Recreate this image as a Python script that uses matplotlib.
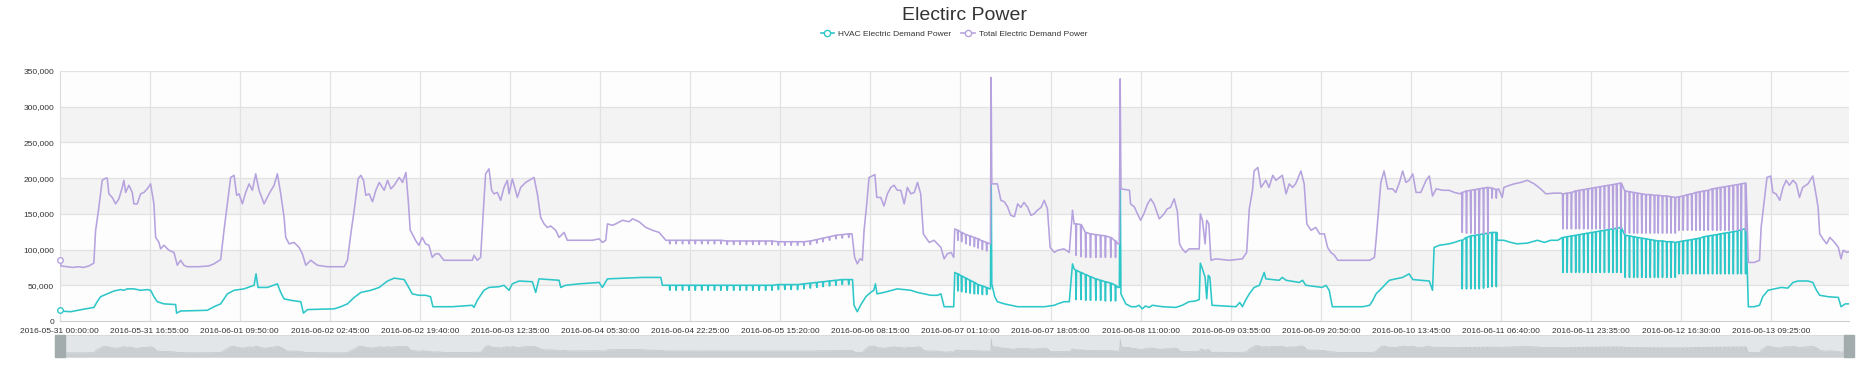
"""Electric power chart: HVAC vs total demand, 2016-05-31 .. 2016-06-13 (ECharts-style look)."""

import matplotlib

matplotlib.use("Agg")
import matplotlib.pyplot as plt
import pandas as pd
from matplotlib.lines import Line2D
from matplotlib.patches import Rectangle
from matplotlib.ticker import FuncFormatter

plt.rcParams["font.family"] = ["Liberation Sans", "DejaVu Sans"]

START = pd.Timestamp("2016-05-31 00:00:00")
END_HOURS = 336.0

x_tick_labels = [
    "2016-05-31 00:00:00", "2016-05-31 16:55:00", "2016-06-01 09:50:00", "2016-06-02 02:45:00",
    "2016-06-02 19:40:00", "2016-06-03 12:35:00", "2016-06-04 05:30:00", "2016-06-04 22:25:00",
    "2016-06-05 15:20:00", "2016-06-06 08:15:00", "2016-06-07 01:10:00", "2016-06-07 18:05:00",
    "2016-06-08 11:00:00", "2016-06-09 03:55:00", "2016-06-09 20:50:00", "2016-06-10 13:45:00",
    "2016-06-11 06:40:00", "2016-06-11 23:35:00", "2016-06-12 16:30:00", "2016-06-13 09:25:00",
]
y_ticks = [0, 50000, 100000, 150000, 200000, 250000, 300000, 350000]

# ---- base curves: hours since start, power in thousands ----
total_h = [
    0, 0.3, 1.5, 2.5, 3.5, 4.5, 5.5, 6.45, 6.77, 7.39, 8.02, 8.65, 8.96, 9.27, 9.9, 10.53,
    11.15, 11.78, 12.09, 12.41, 13.03, 13.66, 13.97, 14.6, 15.23, 15.85, 16.48, 17.1, 17.73,
    18.05, 18.67, 18.98, 19.61, 20.55, 21.49, 22.12, 22.74, 23.37, 24.0, 26.0, 28.0, 29.0,
    30.26, 30.89, 31.52, 32.14, 32.77, 33.27, 33.71, 34.34, 34.96, 35.59, 36.22, 36.84, 37.47,
    38.41, 39.35, 40.29, 40.91, 41.54, 42.17, 42.48, 43.11, 44.05, 44.99, 45.61, 46.24, 47.18,
    48.43, 50.31, 53.45, 54.07, 54.7, 55.33, 56.08, 56.58, 57.08, 57.52, 58.15, 58.77, 59.4,
    60.03, 60.96, 61.59, 62.22, 62.84, 63.78, 64.41, 65.04, 65.48, 65.85, 66.23, 66.85, 67.48,
    68.11, 68.73, 69.36, 69.99, 70.61, 71.24, 72.18, 75.63, 77.51, 77.82, 78.45, 79.07, 79.39,
    79.7, 80.01, 80.64, 81.14, 81.58, 82.21, 82.83, 83.46, 84.09, 84.4, 85.03, 85.97, 86.59,
    87.53, 89.1, 89.72, 90.35, 90.98, 91.6, 92.23, 93.17, 93.8, 94.74, 95.36, 97.55, 100.06,
    101.32, 101.94, 102.57, 102.88, 103.82, 104.45, 105.7, 106.95, 107.58, 108.83, 110.09,
    111.34, 112.59, 113.85,
    148.8, 149.3, 149.8, 150.3, 150.75, 151.07, 151.57, 152.0, 152.6, 153.1, 153.45, 154.2,
    154.8, 155.45, 156.1, 156.7, 157.3, 157.96, 158.6, 159.2, 159.85, 160.5, 161.1, 161.7,
    162.2, 162.65, 163.3, 164.2, 164.85, 165.5, 166.1, 166.7, 167.4, 167.9, 168.1,
    174.6, 174.8, 174.92, 175.05, 176.1, 176.75, 177.4, 178.0, 178.6, 179.3, 179.9, 180.5,
    181.1, 181.8, 182.4, 183.0, 183.6, 184.3, 184.9, 185.5, 186.0, 186.8, 187.4, 188.6, 189.6,
    190.2, 190.5,
    198.7, 199.0, 199.15, 199.3, 200.9, 201.1, 201.8, 202.4, 203.0, 203.6, 204.3, 204.9, 205.5,
    206.5, 207.4, 208.0, 208.6, 209.3, 209.9, 210.3, 210.8, 211.4, 212.1, 213.0, 214.0, 214.2,
    214.6, 215.1, 215.4, 215.8, 216.2, 217.1, 219.6, 222.1, 222.9, 223.4, 224.0, 224.3, 225.0,
    225.6, 226.5, 227.1, 227.8, 228.4, 229.6, 230.3, 230.9, 231.5, 232.1, 233.1, 233.7, 234.2,
    235.0, 235.9, 236.6, 237.5, 238.1, 238.7, 239.4, 240.0, 241.6, 244.1, 246.0, 246.9, 247.2,
    247.7, 248.1, 248.7, 249.4, 250.3, 250.9, 251.6, 252.2, 252.8, 253.4, 254.1, 254.7, 255.6,
    256.6, 257.2, 257.8, 258.5, 259.7, 260.9, 261.9, 263.0,
    270.2, 270.9, 271.2, 271.9, 273.1, 274.4, 275.6, 276.9, 278.1, 279.1, 280.6, 281.9,
    317.1, 318.2, 319.2, 319.5, 320.1, 320.6, 321.3, 321.7, 322.3, 323.0, 323.6, 324.2, 324.8,
    325.5, 326.1, 326.7, 327.3, 328.3, 329.2, 329.9, 330.2, 330.5, 331.1, 331.8, 332.4, 333.3,
    334.0, 334.5, 334.9, 335.6, 336.0,
]
total_kw = [
    85, 77, 76, 75, 76, 75, 77, 81, 126, 159, 197, 200, 200, 178, 173, 164,
    171, 187, 197, 180, 190, 180, 164, 164, 178, 180, 185, 192, 164,
    117, 110, 101, 106, 99, 96, 78, 85, 78, 76, 76, 77, 80,
    86, 127, 164, 201, 204, 176, 178, 164, 180, 192, 183, 206, 183,
    164, 178, 190, 206, 178, 145, 117, 108, 110, 103, 94, 78, 85,
    78, 76, 76, 85, 122, 155, 199, 204, 197, 176, 178, 167, 183,
    194, 183, 197, 185, 190, 201, 194, 208, 169, 127, 122, 113, 106,
    117, 108, 106, 89, 94, 94, 85, 85, 85, 92, 85, 89, 131,
    169, 206, 213, 183, 178, 180, 169, 187, 197, 178, 199, 173, 187,
    194, 201, 178, 145, 136, 131, 133, 127, 117, 124, 113, 113, 113,
    115, 110, 113, 136, 134, 136, 141, 139, 143, 139, 131,
    127, 124, 113,
    122, 89, 80, 87, 85, 127, 164, 201, 203, 205, 173, 173,
    161, 178, 187, 190, 183, 183, 164, 187, 178, 180, 194, 178,
    122, 117, 110, 113, 108, 103, 87, 94, 96, 89, 129,
    108, 108, 341, 192, 192, 169, 167, 160, 148, 146, 164, 159,
    166, 159, 148, 150, 155, 159, 169, 157, 103, 96, 99, 101, 96,
    155, 136,
    108, 108, 339, 185, 183, 164, 160, 150, 141, 150, 164, 171, 164,
    143, 150, 157, 159, 171, 153, 108, 101, 96, 101, 101, 101, 150,
    141, 108, 141, 136, 85, 87, 85, 87, 96, 157, 183, 210, 215,
    187, 197, 187, 204, 197, 204, 178, 192, 187, 192, 210, 192, 136,
    127, 131, 122, 122, 103, 96, 92, 85, 85, 85, 85, 89, 113,
    159, 194, 210, 185, 185, 180, 194, 210, 194, 197, 206, 180, 180,
    197, 203, 175, 185, 183, 183, 180, 178,
    185, 173, 187, 189, 192, 194, 197, 192, 185, 178, 179, 179,
    82, 82, 85, 131, 169, 201, 203, 180, 178, 169, 187, 197, 190,
    197, 192, 173, 187, 192, 203, 173, 159, 122, 115, 108, 117, 110,
    103, 87, 99, 96, 97,
]

hvac_h = [
    0, 0.2, 2.07, 4.89, 6.45, 7.08, 7.71, 8.96, 10.21, 11.47, 12.09, 12.72, 13.97, 15.23,
    16.48, 17.11, 17.73, 18.36, 19.61, 21.8, 21.99, 22.74, 27.76, 29.01, 29.64, 30.26, 30.89,
    31.52, 32.77, 34.65, 36.53, 36.9, 37.28, 39.04, 40.91, 41.54, 42.17, 43.42, 45.3, 45.8,
    46.55, 51.57, 52.82, 54.07, 55.33, 56.58, 58.46, 60.03, 61.59, 62.84, 64.72, 65.35, 66.23,
    67.48, 68.73, 69.67, 70.11, 73.75, 77.51, 77.82, 78.45, 79.07, 79.7, 80.64, 82.52, 83.46,
    84.4, 85.03, 86.28, 88.78, 89.41, 90.04, 93.8, 94.11, 95.05, 97.55, 101.32, 101.94, 102.88,
    109.46, 112.9, 113.2,
    148.9, 149.18, 149.8, 150.4, 151.4, 152.3, 152.9, 153.2, 153.5, 154.8, 157.3, 159.85,
    161.1, 163.6, 164.85, 165.5, 166.1, 167.9, 168.1,
    174.6, 174.8, 174.92, 175.05, 175.6, 176.1, 177.4, 179.9, 182.4, 184.9, 186.8, 187.4,
    188.6, 189.6, 190.2, 190.5,
    198.7, 199.0, 199.15, 199.3, 200.2, 201.2, 202.1, 202.7, 203.3, 203.9, 204.6, 205.2, 207.1,
    209.6, 210.8, 212.1, 213.3, 214.0, 214.2, 214.6, 215.1, 215.4, 215.7, 216.0, 216.4, 220.9,
    221.6, 222.1, 222.7, 223.4, 224.3, 225.3, 226.2, 226.5, 229.0, 229.6, 230.3, 232.8, 233.4,
    234.0, 237.1, 237.8, 238.4, 239.0, 244.7, 246.0, 246.6, 247.2, 248.4, 249.7, 250.9, 252.2,
    253.4, 254.1, 257.2, 257.8, 258.1, 259.1, 260.9, 261.9, 263.1,
    270.0, 271.2, 272.5, 273.7, 275.6, 277.5, 278.8, 280.0, 281.3,
    317.1, 318.2, 319.2, 319.8, 320.8, 322.0, 323.3, 324.5, 325.5, 326.4, 328.3, 329.2, 329.9,
    330.5, 332.1, 334.0, 334.5, 335.3, 336.0,
]
hvac_kw = [
    16, 14, 13, 17, 19, 27, 34, 38, 42, 44, 43, 45, 45, 43,
    44, 43, 34, 27, 24, 23, 11, 14, 15, 20, 22, 24, 31,
    38, 43, 45, 50, 66, 47, 47, 52, 40, 31, 29, 27, 11,
    16, 17, 20, 24, 33, 40, 43, 47, 56, 60, 58, 50, 38,
    36, 36, 34, 20, 20, 22, 19, 29, 36, 43, 47, 48, 50,
    43, 52, 56, 55, 40, 59, 57, 47, 50, 52, 54, 47, 59,
    61, 61, 50,
    58, 22, 13, 22, 34, 40, 43, 52, 38, 40, 45, 43,
    40, 36, 36, 38, 20, 20, 68,
    45, 45, 230, 52, 34, 27, 24, 20, 20, 20, 22, 24,
    27, 27, 80, 73,
    47, 47, 230, 38, 24, 20, 20, 22, 17, 21, 19, 22, 20,
    19, 22, 27, 28, 30, 81, 73, 61, 31, 64, 61, 22, 20,
    26, 20, 29, 38, 47, 50, 68, 59, 57, 61, 57, 54, 57,
    50, 47, 50, 43, 20, 20, 22, 29, 38, 47, 57, 59, 61,
    66, 58, 56, 43, 103, 106, 108, 110, 113,
    113, 113, 110, 108, 109, 113, 110, 113, 113,
    20, 20, 22, 34, 43, 45, 47, 46, 54, 56, 56, 54, 43,
    36, 34, 33, 20, 24, 24,
]

# ---- one-sample dips (sawtooth) in both series: hour, top and bottom values ----
dip_h = [
    # 06-04 .. 06-06 shallow dips
    114.5, 115.7, 116.9, 118.1, 119.3, 120.5, 121.7, 122.9, 124.1, 125.3, 126.5, 127.7, 128.9,
    130.1, 131.3, 132.5, 133.7, 134.9, 136.1, 137.3, 138.5, 139.7, 140.9, 142.1, 143.3, 144.5,
    145.7, 146.9, 148.1,
    # 06-07 morning
    168.6, 169.3, 170.1, 170.9, 171.7, 172.4, 173.2, 174.0,
    # 06-07 evening
    190.8, 191.7, 192.6, 193.5, 194.5, 195.4, 196.3, 197.3, 198.2,
    # 06-10 afternoon
    263.3, 264.1, 264.9, 265.7, 266.5, 267.3, 268.1, 268.9, 269.7,
    # 06-11 .. 06-12
    282.2, 283.0, 283.8, 284.6, 285.3, 286.1, 286.9, 287.7, 288.4, 289.2, 290.0, 290.8, 291.6,
    292.3, 293.1, 293.9, 294.7, 295.5, 296.2, 297.0, 297.8, 298.6, 299.4, 300.1, 300.9, 301.7,
    302.5, 303.3, 304.0, 304.8, 305.6, 306.4, 307.2, 307.9, 308.7, 309.5, 310.3, 311.1, 311.8,
    312.6, 313.4, 314.2, 315.0, 315.7, 316.5,
]
dip_total_top = [
    113, 113, 113, 113, 113, 113, 113, 113, 113, 112, 112, 112, 112,
    112, 112, 112, 112, 111, 111, 111, 111, 111, 112, 114, 116, 118,
    120, 121, 122,
    127, 124, 121, 119, 117, 115, 112, 110,
    136, 135, 124, 122, 121, 120, 119, 117, 112,
    180, 182, 183, 184, 185, 186, 187, 186, 184,
    178, 179, 180, 182, 183, 184, 185, 186, 187, 188, 189, 190, 191,
    192, 193, 182, 181, 180, 179, 178, 177, 177, 176, 176, 175, 175,
    174, 173, 174, 175, 177, 178, 180, 181, 182, 183, 185, 186, 187,
    188, 189, 190, 191, 192, 193,
]
dip_total_low = [
    108, 108, 108, 108, 108, 108, 108, 108, 108, 107, 107, 107, 107,
    107, 107, 107, 107, 106, 106, 106, 106, 106, 107, 109, 111, 113,
    115, 116, 117,
    113, 111, 108, 106, 104, 102, 100, 98,
    92, 90, 89, 89, 89, 89, 89, 89, 89,
    124, 123, 123, 122, 122, 122, 122, 172, 172,
    129, 129, 129, 129, 129, 129, 129, 129, 129, 129, 129, 129, 129,
    129, 129, 123, 123, 123, 123, 123, 123, 123, 123, 123, 123, 123,
    123, 123, 127, 127, 127, 127, 127, 127, 127, 127, 127, 127, 127,
    127, 127, 127, 127, 127, 127,
]
dip_hvac_top = [
    50, 50, 50, 50, 50, 50, 50, 50, 50, 50, 50, 50, 50,
    50, 50, 50, 50, 51, 51, 51, 51, 52, 53, 54, 55, 56,
    57, 58, 58,
    66, 63, 60, 57, 54, 51, 49, 47,
    71, 68, 65, 62, 59, 57, 55, 53, 50,
    113, 117, 119, 120, 121, 122, 123, 124, 124,
    117, 118, 119, 120, 121, 122, 123, 124, 125, 126, 127, 128, 129,
    130, 131, 120, 119, 118, 117, 116, 115, 114, 113, 112, 112, 111,
    111, 110, 111, 112, 113, 114, 115, 116, 118, 119, 120, 121, 122,
    123, 124, 125, 126, 128, 129,
]
dip_hvac_low = [
    43, 43, 43, 43, 43, 43, 43, 43, 43, 43, 43, 43, 43,
    43, 43, 43, 43, 44, 44, 44, 44, 45, 46, 47, 48, 49,
    50, 51, 51,
    42, 41, 40, 39, 38, 38, 37, 37,
    30, 30, 29, 29, 29, 29, 28, 28, 28,
    45, 45, 45, 45, 45, 46, 47, 48, 48,
    68, 68, 68, 68, 68, 68, 68, 68, 68, 68, 68, 68, 68,
    68, 68, 61, 61, 61, 61, 61, 61, 61, 61, 61, 61, 61,
    61, 61, 66, 66, 66, 66, 66, 66, 66, 66, 66, 66, 66,
    66, 66, 66, 66, 66, 66,
]

HVAC_COLOR = "#2ec7c9"
TOTAL_COLOR = "#b6a2de"


def build_series(base_h, base_v, top, low):
    """Merge base curve with the one-sample dips, return sorted hours and watts."""
    pts = list(zip(base_h, base_v))
    for t, a, b in zip(dip_h, top, low):
        pts += [(t, a), (t + 1 / 12, b), (t + 2 / 12, a)]
    pts.sort()
    hours = [p[0] for p in pts]
    watts = [p[1] * 1000 for p in pts]
    return hours, watts


hvac_x, hvac_y = build_series(hvac_h, hvac_kw, dip_hvac_top, dip_hvac_low)
total_x, total_y = build_series(total_h, total_kw, dip_total_top, dip_total_low)

W, H = 1874, 371
fig = plt.figure(figsize=(W / 100, H / 100), dpi=100)
fig.patch.set_facecolor("white")

# ---- main plot ----
ax = fig.add_axes([59.5 / W, 1 - 321 / H, (1849 - 59.5) / W, 250 / H])
band_colors = ["#fdfdfd", "#f3f3f3"]
for i in range(len(y_ticks) - 1):
    ax.axhspan(y_ticks[i], y_ticks[i + 1], color=band_colors[i % 2], lw=0, zorder=0)
for yv in y_ticks[1:]:
    ax.axhline(yv, color="#e2e2e2", lw=0.9, zorder=1)

tick_hours = [(pd.Timestamp(s) - START) / pd.Timedelta(hours=1) for s in x_tick_labels]
for th in tick_hours[1:]:
    ax.axvline(th, color="#e2e2e2", lw=0.9, zorder=1)

ax.plot(hvac_x, hvac_y, color=HVAC_COLOR, lw=1.15, zorder=3)
ax.plot(total_x, total_y, color=TOTAL_COLOR, lw=1.15, zorder=4)
ax.plot([hvac_x[0]], [hvac_y[0]], marker="o", ms=4, mfc="white", mec=HVAC_COLOR, mew=1.0,
        zorder=5, clip_on=False)
ax.plot([total_x[0]], [total_y[0]], marker="o", ms=4, mfc="white", mec=TOTAL_COLOR, mew=1.0,
        zorder=5, clip_on=False)

ax.set_xlim(0, END_HOURS)
ax.set_ylim(0, 350000)
ax.set_yticks(y_ticks)
ax.yaxis.set_major_formatter(FuncFormatter(lambda v, _p: f"{int(v):,}"))
ax.set_xticks(tick_hours)
ax.set_xticklabels(x_tick_labels)
ax.tick_params(axis="both", length=0, labelsize=6, colors="#333333")
ax.tick_params(axis="x", pad=5)
ax.tick_params(axis="y", pad=4)
for side in ("top", "right"):
    ax.spines[side].set_visible(False)
ax.spines["left"].set_color("#dcdcdc")
ax.spines["bottom"].set_color("#cfcfcf")

# ---- title and legend ----
fig.text(965 / W, 1 - 15 / H, "Electirc Power", ha="center", va="center", fontsize=14,
         color="#333333")
handles = [
    Line2D([], [], color=HVAC_COLOR, lw=1.2, marker="o", ms=4.5, mfc="white", mew=1.0),
    Line2D([], [], color=TOTAL_COLOR, lw=1.2, marker="o", ms=4.5, mfc="white", mew=1.0),
]
fig.legend(handles, ["HVAC Electric Demand Power", "Total Electric Demand Power"],
           loc="center", bbox_to_anchor=(954 / W, 1 - 34 / H), ncol=2, frameon=False,
           fontsize=6, handlelength=1.6, handletextpad=0.5, columnspacing=1.2,
           labelcolor="#333333")

# ---- data-zoom slider with shadow of the total series ----
sax = fig.add_axes([60 / W, 1 - 357 / H, (1849 - 60) / W, 22 / H])
sax.set_facecolor("#e2e6e9")
lo, hi = min(total_y), max(total_y)
pad = (hi - lo) * 0.3
sax.set_xlim(0, END_HOURS)
sax.set_ylim(lo - pad, hi + pad)
sax.fill_between(total_x, lo - pad, total_y, color="#cbcfd2", lw=0)
sax.plot(total_x, total_y, color="#c3c7ca", lw=0.5)
sax.set_xticks([])
sax.set_yticks([])
for sp in sax.spines.values():
    sp.set_color("#d5d9dc")
    sp.set_linewidth(0.6)
for hx in (0, END_HOURS):
    sax.add_patch(Rectangle((hx - 1.0, lo - pad), 2.0, hi - lo + 2 * pad, color="#a3acac",
                            zorder=5, clip_on=False))

fig.savefig("out.png", dpi=100)
